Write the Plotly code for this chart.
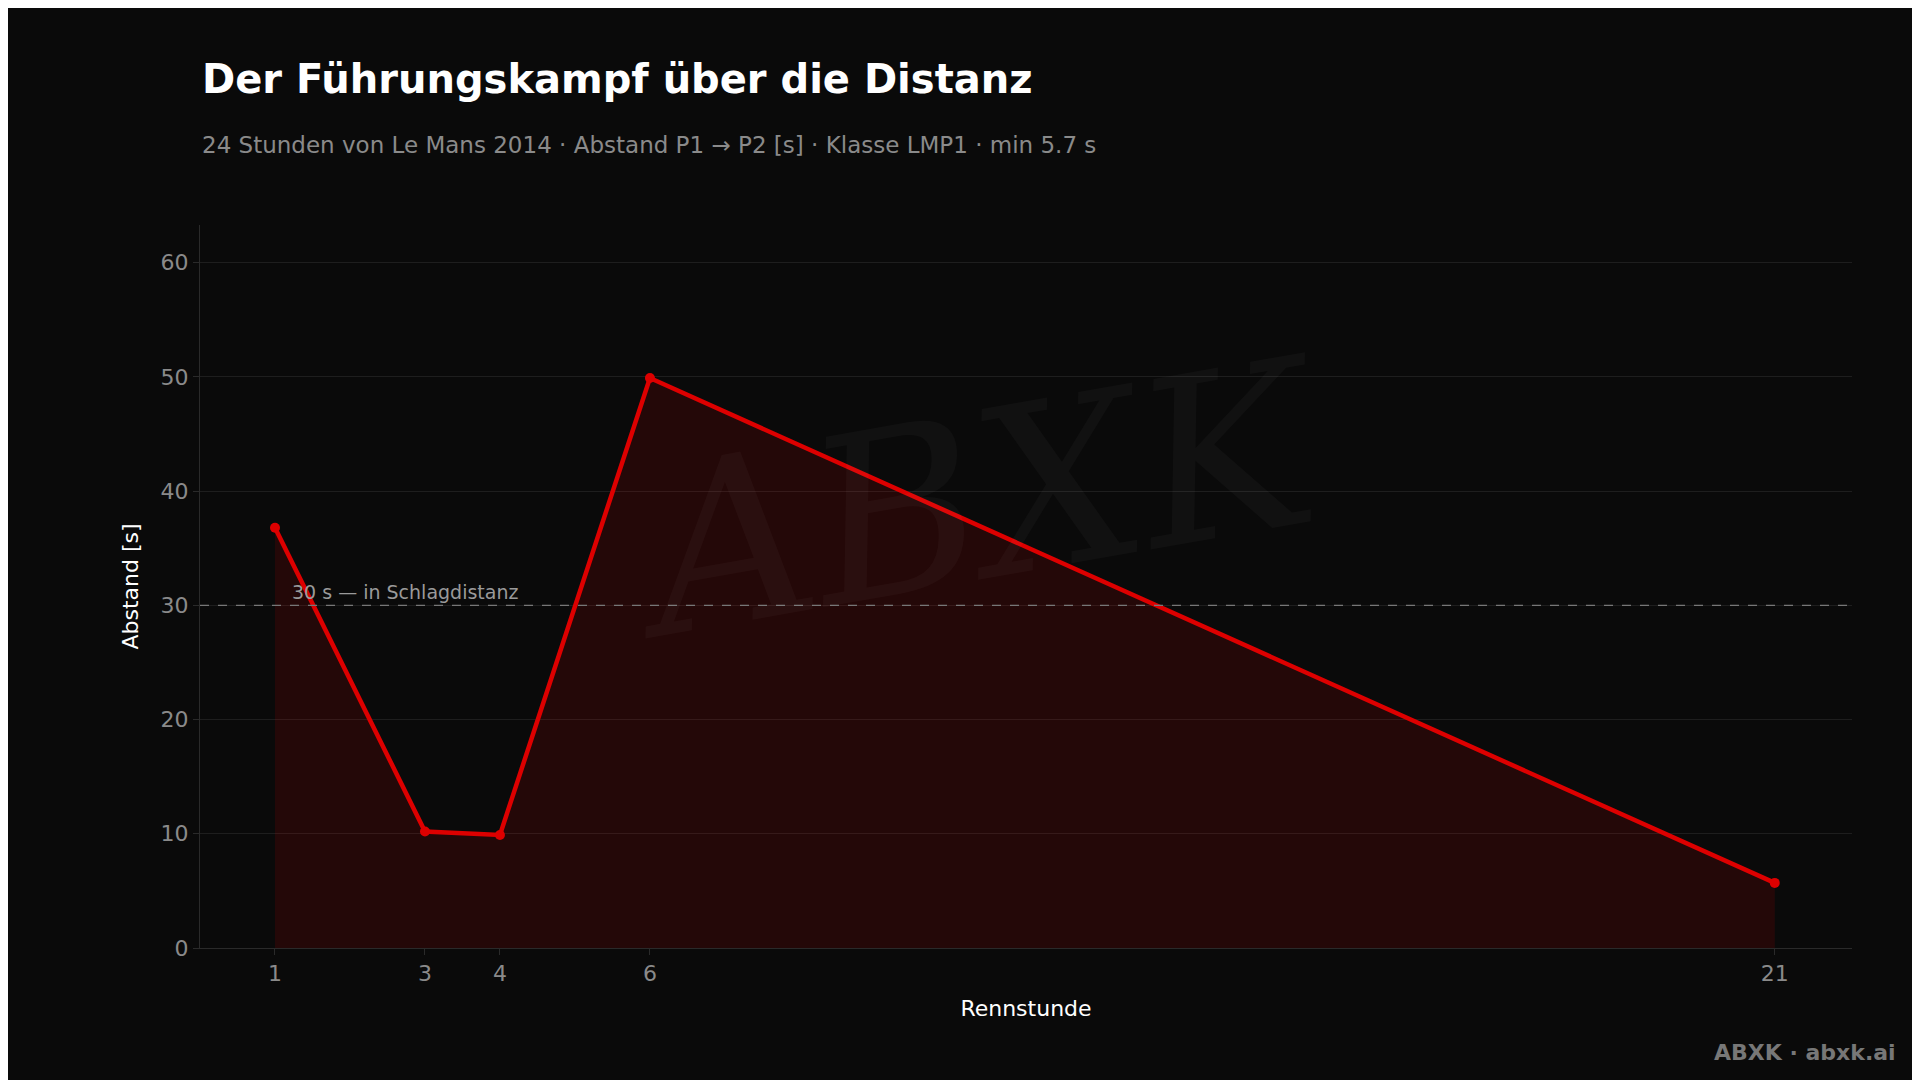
import plotly.graph_objects as go

hours = [1, 3, 4, 6, 21]
gap_s = [36.8, 10.2, 9.9, 49.9, 5.7]
tick_vals = [1, 3, 4, 6, 21]
threshold = 30

fig = go.Figure()
fig.add_trace(go.Scatter(x=hours, y=gap_s, mode="lines+markers", fill="tozeroy",
                         fillcolor="rgba(220,0,0,0.13)",
                         line=dict(color="#dd0000", width=4.5),
                         marker=dict(color="#dd0000", size=10), showlegend=False))
fig.add_hline(y=threshold, line=dict(color="#777777", width=1.2, dash="dash"))
fig.add_annotation(x=1.2, y=threshold, text="30 s — in Schlagdistanz", showarrow=False,
                   xanchor="left", yanchor="bottom", font=dict(size=19, color="#9a9a9a"))
fig.add_annotation(xref="paper", yref="paper", x=0.47, y=0.62, text="<i>ABXK</i>", showarrow=False,
                   font=dict(size=230, color="rgba(255,255,255,0.03)", family="DejaVu Serif"), textangle=-10)
fig.add_annotation(xref="paper", yref="paper", x=0.0, y=1.202, text="<b>Der Führungskampf über die Distanz</b>",
                   showarrow=False, xanchor="left", yanchor="middle", font=dict(size=40, color="#ffffff"))
fig.add_annotation(xref="paper", yref="paper", x=0.0, y=1.111,
                   text="24 Stunden von Le Mans 2014 · Abstand P1 → P2 [s] · Klasse LMP1 · min 5.7 s",
                   showarrow=False, xanchor="left", yanchor="middle", font=dict(size=23, color="#8a8a8a"))
fig.add_annotation(xref="paper", yref="paper", x=1.028, y=-0.145, text="<b>ABXK · abxk.ai</b>",
                   showarrow=False, xanchor="right", yanchor="middle",
                   font=dict(size=22, color="#777777"))
fig.update_layout(
    width=1920, height=1080, paper_bgcolor="#0a0a0a", plot_bgcolor="#0a0a0a",
    font=dict(family="DejaVu Sans", color="#8a8a8a"),
    margin=dict(l=192, r=76, t=217, b=140),
    xaxis=dict(range=[0, 22.03], tickvals=tick_vals, showgrid=False, zeroline=False,
               showline=True, linecolor="#2a2a2a", ticks="outside", ticklen=6, tickcolor="#2a2a2a",
               tickfont=dict(size=22, color="#8a8a8a"),
               title=dict(text="Rennstunde", font=dict(size=22, color="#ffffff"))),
    yaxis=dict(range=[0, 63.3], tickvals=[0, 10, 20, 30, 40, 50, 60], gridcolor="#1e1e1e",
               zeroline=False, showline=True, linecolor="#2a2a2a", ticks="outside", ticklen=6,
               tickcolor="#2a2a2a", tickfont=dict(size=22, color="#8a8a8a"),
               title=dict(text="Abstand [s]", font=dict(size=22, color="#ffffff"))),
)
fig.write_html("out.html")
